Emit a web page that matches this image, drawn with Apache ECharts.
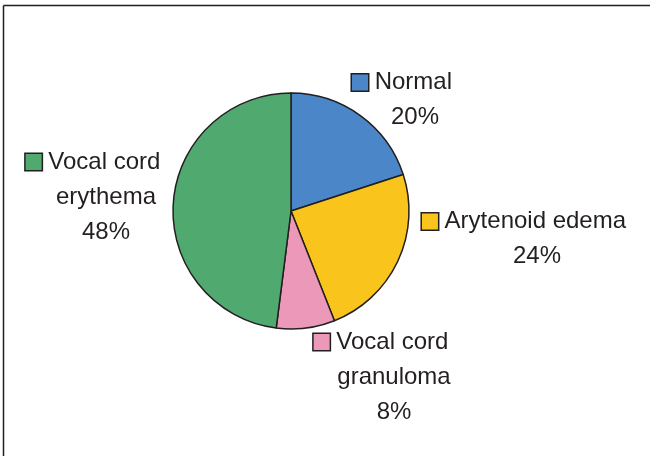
<!DOCTYPE html>
<html>
<head>
<meta charset="utf-8">
<script src="https://cdn.jsdelivr.net/npm/echarts@6/dist/echarts.min.js"></script>
<style>
  html, body {margin: 0; padding: 0; background: #fff;}
  #chart {width: 650px; height: 456px;}
</style>
</head>
<body>
<div id="chart"></div>
<script>
// slices, clockwise from 12 o'clock
const categories = ['Normal', 'Arytenoid edema', 'Vocal cord granuloma', 'Vocal cord erythema'];
const labelLines = [['Normal'], ['Arytenoid edema'], ['Vocal cord', 'granuloma'], ['Vocal cord', 'erythema']];
const percents = [20, 24, 8, 48];
const colors = ['#4a86c8', '#f9c41c', '#ec98b9', '#50aa70'];

// label block centres (text part, marker hangs to the left)
const labelPos = [[415, 100], [537, 239], [394, 377], [106, 197]];

const chart = echarts.init(document.getElementById('chart'));

const rich = {
  t: {fontSize: 24, lineHeight: 35, color: '#231f20', fontFamily: 'Liberation Sans'},
  pad: {width: 26, height: 16}
};
colors.forEach((c, i) => {
  rich['m' + i] = {
    width: 16, height: 16, backgroundColor: c,
    borderColor: '#231f20', borderWidth: 1.5, padding: 0
  };
});

const data = categories.map((name, i) => ({
  name: name,
  value: percents[i],
  itemStyle: {color: colors[i]},
  label: {
    formatter: () => {
      const lines = labelLines[i];
      let s = '{m' + i + '|}{t| ' + lines[0] + '}{pad|}';
      for (let k = 1; k < lines.length; k++) s += '\n{t|' + lines[k] + '}';
      s += '\n{t|' + percents[i] + '%}';
      return s;
    }
  }
}));

chart.setOption({
  animation: false,
  backgroundColor: '#fff',
  graphic: [
    {type: 'line', shape: {x1: 3.5, y1: 5.5, x2: 650, y2: 5.5}, style: {stroke: '#231f20', lineWidth: 1.5}},
    {type: 'line', shape: {x1: 3.5, y1: 5.5, x2: 3.5, y2: 456}, style: {stroke: '#231f20', lineWidth: 1.5}}
  ],
  series: [{
    type: 'pie',
    center: [291, 211],
    radius: 118,
    startAngle: 90,
    clockwise: true,
    data: data,
    itemStyle: {borderColor: '#231f20', borderWidth: 1.5},
    label: {
      show: true,
      position: 'outside',
      align: 'center',
      verticalAlign: 'middle',
      overflow: 'none',
      width: 300,
      rich: rich
    },
    labelLine: {show: false},
    labelLayout: (params) => ({
      x: labelPos[params.dataIndex][0],
      y: labelPos[params.dataIndex][1],
      align: 'center',
      verticalAlign: 'middle'
    }),
    emphasis: {disabled: true}
  }]
});
</script>
</body>
</html>
